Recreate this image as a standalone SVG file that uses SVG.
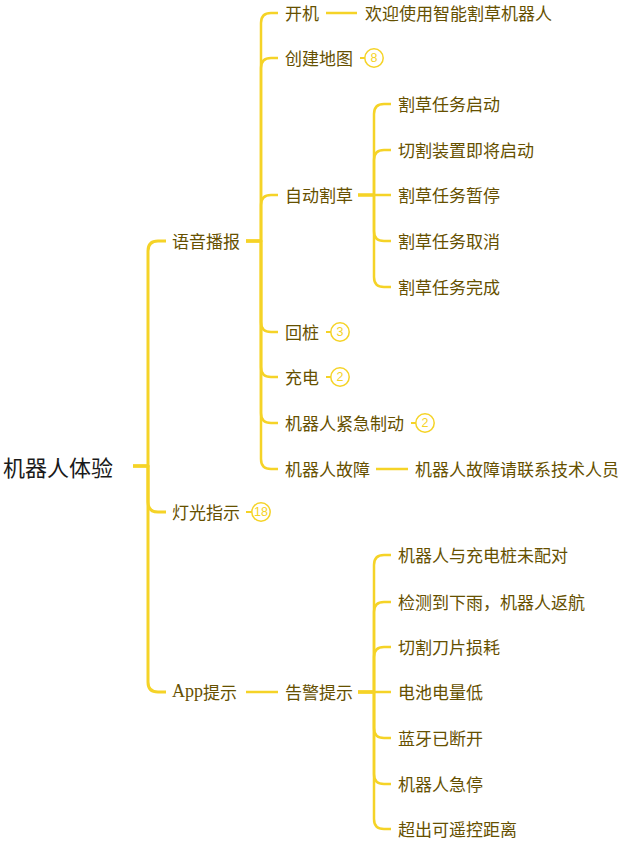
<svg xmlns="http://www.w3.org/2000/svg" width="620" height="845" viewBox="0 0 620 845">
<style>
.t{font-family:"Noto Sans CJK SC","Noto Sans",sans-serif;font-size:17px;fill:#665000;dominant-baseline:central}
.root{font-family:"Noto Sans CJK SC","Noto Sans",sans-serif;font-size:22px;fill:#1a1a1a;dominant-baseline:central}
.serif{font-family:"Liberation Serif","Noto Sans CJK SC",serif;font-size:18px}
.c{fill:none;stroke:#f5d327;stroke-linecap:butt;stroke-linejoin:round}
.l1{stroke-width:3}
.l2{stroke-width:2.5}
.l3{stroke-width:2}
.bc{fill:#fff;stroke:#f5d327;stroke-width:1.5}
.bt{font-family:"Liberation Sans",Arial,sans-serif;font-size:12.5px;fill:#f5d327;text-anchor:middle;dominant-baseline:central}
</style>
<rect width="620" height="845" fill="#fff"/>
<g id="connectors">
<path class="c l1" d="M133,466 H148 V251 Q148,241 158,241 H166"/>
<path class="c l1" d="M133,466 H148 V502 Q148,512 158,512 H166"/>
<path class="c l1" d="M133,466 H148 V682 Q148,692 158,692 H166"/>
<path class="c l2" d="M246,241 H261 V23 Q261,13 271,13 H278"/>
<path class="c l2" d="M246,241 H261 V68 Q261,58 271,58 H278"/>
<path class="c l2" d="M246,241 H261 V205 Q261,195 271,195 H278"/>
<path class="c l2" d="M246,241 H261 V322 Q261,332 271,332 H278"/>
<path class="c l2" d="M246,241 H261 V367 Q261,377 271,377 H278"/>
<path class="c l2" d="M246,241 H261 V413 Q261,423 271,423 H278"/>
<path class="c l2" d="M246,241 H261 V459 Q261,469 271,469 H278"/>
<path class="c l2" d="M246,692 H278"/>
<path class="c l2" d="M326,13 H357"/>
<path class="c l2" d="M376,469 H408"/>
<path class="c l2" d="M358,195 H374 V114 Q374,104 384,104 H391"/>
<path class="c l2" d="M358,195 H374 V160 Q374,150 384,150 H391"/>
<path class="c l2" d="M358,195 H391"/>
<path class="c l2" d="M358,195 H374 V231 Q374,241 384,241 H391"/>
<path class="c l2" d="M358,195 H374 V277 Q374,287 384,287 H391"/>
<path class="c l2" d="M358,692 H374 V565 Q374,555 384,555 H391"/>
<path class="c l2" d="M358,692 H374 V612 Q374,602 384,602 H391"/>
<path class="c l2" d="M358,692 H374 V657 Q374,647 384,647 H391"/>
<path class="c l2" d="M358,692 H391"/>
<path class="c l2" d="M358,692 H374 V728 Q374,738 384,738 H391"/>
<path class="c l2" d="M358,692 H374 V774 Q374,784 384,784 H391"/>
<path class="c l2" d="M358,692 H374 V819 Q374,829 384,829 H391"/>
<path class="c l3" d="M360,58 H365"/>
<path class="c l3" d="M326,332 H331"/>
<path class="c l3" d="M326,377 H331"/>
<path class="c l3" d="M411,423 H416"/>
<path class="c l3" d="M246,512 H252"/>
</g>
<g id="root"><text class="root" x="3" y="466">机器人体验</text></g>
<g id="n-yuyin"><text class="t" x="172" y="240">语音播报</text></g>
<g id="n-dengguang"><text class="t" x="172" y="511">灯光指示</text><circle class="bc" cx="261" cy="512" r="9.2"/><text class="bt" x="261" y="512">18</text></g>
<g id="n-app"><text class="t" x="172" y="691"><tspan class="serif">App</tspan>提示</text></g>
<g id="n-kaiji"><text class="t" x="285" y="12">开机</text></g>
<g id="n-huanying"><text class="t" x="365" y="12">欢迎使用智能割草机器人</text></g>
<g id="n-chuangjian"><text class="t" x="285" y="57">创建地图</text><circle class="bc" cx="374" cy="58" r="9.2"/><text class="bt" x="374" y="58">8</text></g>
<g id="n-zidong"><text class="t" x="285" y="194">自动割草</text></g>
<g id="n-gc1"><text class="t" x="398" y="103">割草任务启动</text></g>
<g id="n-gc2"><text class="t" x="398" y="149">切割装置即将启动</text></g>
<g id="n-gc3"><text class="t" x="398" y="194">割草任务暂停</text></g>
<g id="n-gc4"><text class="t" x="398" y="240">割草任务取消</text></g>
<g id="n-gc5"><text class="t" x="398" y="286">割草任务完成</text></g>
<g id="n-huizhuang"><text class="t" x="285" y="331">回桩</text><circle class="bc" cx="340" cy="332" r="9.2"/><text class="bt" x="340" y="332">3</text></g>
<g id="n-chongdian"><text class="t" x="285" y="376">充电</text><circle class="bc" cx="340" cy="377" r="9.2"/><text class="bt" x="340" y="377">2</text></g>
<g id="n-jinji"><text class="t" x="285" y="422">机器人紧急制动</text><circle class="bc" cx="425" cy="423" r="9.2"/><text class="bt" x="425" y="423">2</text></g>
<g id="n-guzhang"><text class="t" x="285" y="468">机器人故障</text></g>
<g id="n-guzhang2"><text class="t" x="415" y="468">机器人故障请联系技术人员</text></g>
<g id="n-gaojing"><text class="t" x="285" y="691">告警提示</text></g>
<g id="n-g1"><text class="t" x="398" y="554">机器人与充电桩未配对</text></g>
<g id="n-g2"><text class="t" x="398" y="601">检测到下雨，机器人返航</text></g>
<g id="n-g3"><text class="t" x="398" y="646">切割刀片损耗</text></g>
<g id="n-g4"><text class="t" x="398" y="691">电池电量低</text></g>
<g id="n-g5"><text class="t" x="398" y="737">蓝牙已断开</text></g>
<g id="n-g6"><text class="t" x="398" y="783">机器人急停</text></g>
<g id="n-g7"><text class="t" x="398" y="828">超出可遥控距离</text></g>
</svg>
